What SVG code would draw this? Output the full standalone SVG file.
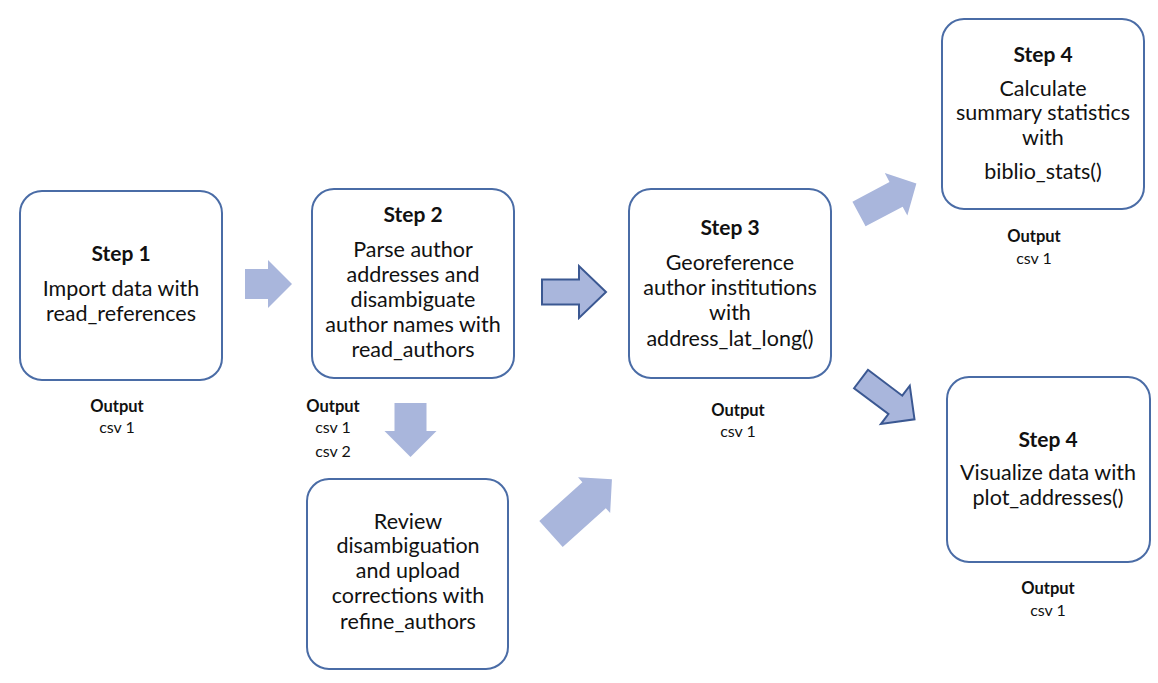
<svg xmlns="http://www.w3.org/2000/svg" width="1158" height="683" viewBox="0 0 1158 683">
<style>
.box{fill:#fff;stroke:#4A6CA6;stroke-width:2}
.t{font-family:Lato,"Liberation Sans",sans-serif;font-size:21.5px;fill:#111;text-anchor:middle}
.h{font-family:Lato,"Liberation Sans",sans-serif;font-size:21px;font-weight:bold;fill:#111;text-anchor:middle}
.ob{font-family:Lato,"Liberation Sans",sans-serif;font-size:16.5px;font-weight:bold;fill:#111;text-anchor:middle}
.o{font-family:Lato,"Liberation Sans",sans-serif;font-size:16px;fill:#111;text-anchor:middle}
.a{fill:#A9B6DC;stroke:none}
.ad{fill:#A9B6DC;stroke:#3B5892;stroke-width:2;stroke-linejoin:miter}
</style>
<rect width="1158" height="683" fill="#fff"/>
<g id="connectors">
<path class="a" transform="translate(245,284)" d="M0,-15 L23,-15 L23,-24 L47,0 L23,24 L23,15 L0,15 Z"/>
<path class="ad" transform="translate(542,292)" d="M0,-12.5 L37,-12.5 L37,-26 L64,0 L37,26 L37,12.5 L0,12.5 Z"/>
<path class="a" transform="translate(410.5,403) rotate(90)" d="M0,-16 L28,-16 L28,-26 L54,0 L28,26 L28,16 L0,16 Z"/>
<path class="a" transform="translate(859,214) rotate(-28)" d="M0,-14 L42,-14 L42,-24 L65,0 L42,24 L42,14 L0,14 Z"/>
<path class="a" transform="translate(551,534) rotate(-42)" d="M0,-17.5 L58,-17.5 L58,-24 L82,0 L58,24 L58,17.5 L0,17.5 Z"/>
<path class="ad" transform="translate(861,379) rotate(37)" d="M0,-11.5 L43,-11.5 L43,-24 L67,0 L43,24 L43,11.5 L0,11.5 Z"/>
</g>
<g id="step1">
<rect class="box" x="20" y="191" width="202" height="189" rx="22"/>
<text class="h" x="121" y="261">Step 1</text>
<text class="t" x="121" y="296">Import data with</text>
<text class="t" x="121" y="321">read_references</text>
<text class="ob" x="117" y="412">Output</text>
<text class="o" x="117" y="433">csv 1</text>
</g>
<g id="step2">
<rect class="box" x="312" y="189" width="202" height="189" rx="22"/>
<text class="h" x="413" y="222">Step 2</text>
<text class="t" x="413" y="257">Parse author</text>
<text class="t" x="413" y="282">addresses and</text>
<text class="t" x="413" y="307">disambiguate</text>
<text class="t" x="413" y="332">author names with</text>
<text class="t" x="413" y="357">read_authors</text>
<text class="ob" x="333" y="412">Output</text>
<text class="o" x="333" y="433">csv 1</text>
<text class="o" x="333" y="457">csv 2</text>
</g>
<g id="refine">
<rect class="box" x="307" y="479" width="201" height="190" rx="22"/>
<text class="t" x="408" y="529">Review</text>
<text class="t" x="408" y="553">disambiguation</text>
<text class="t" x="408" y="578">and upload</text>
<text class="t" x="408" y="603">corrections with</text>
<text class="t" x="408" y="629">refine_authors</text>
</g>
<g id="step3">
<rect class="box" x="629" y="189" width="202" height="189" rx="22"/>
<text class="h" x="730" y="235">Step 3</text>
<text class="t" x="730" y="270">Georeference</text>
<text class="t" x="730" y="295">author institutions</text>
<text class="t" x="730" y="320">with</text>
<text class="t" x="730" y="346">address_lat_long()</text>
<text class="ob" x="738" y="416">Output</text>
<text class="o" x="738" y="437">csv 1</text>
</g>
<g id="step4a">
<rect class="box" x="942" y="19" width="202" height="190" rx="22"/>
<text class="h" x="1043" y="62">Step 4</text>
<text class="t" x="1043" y="96">Calculate</text>
<text class="t" x="1043" y="120">summary statistics</text>
<text class="t" x="1043" y="145">with</text>
<text class="t" x="1043" y="179">biblio_stats()</text>
<text class="ob" x="1034" y="242">Output</text>
<text class="o" x="1034" y="264">csv 1</text>
</g>
<g id="step4b">
<rect class="box" x="947" y="377" width="203" height="185" rx="22"/>
<text class="h" x="1048" y="447">Step 4</text>
<text class="t" x="1048" y="480">Visualize data with</text>
<text class="t" x="1048" y="505">plot_addresses()</text>
<text class="ob" x="1048" y="594">Output</text>
<text class="o" x="1048" y="616">csv 1</text>
</g>
</svg>
